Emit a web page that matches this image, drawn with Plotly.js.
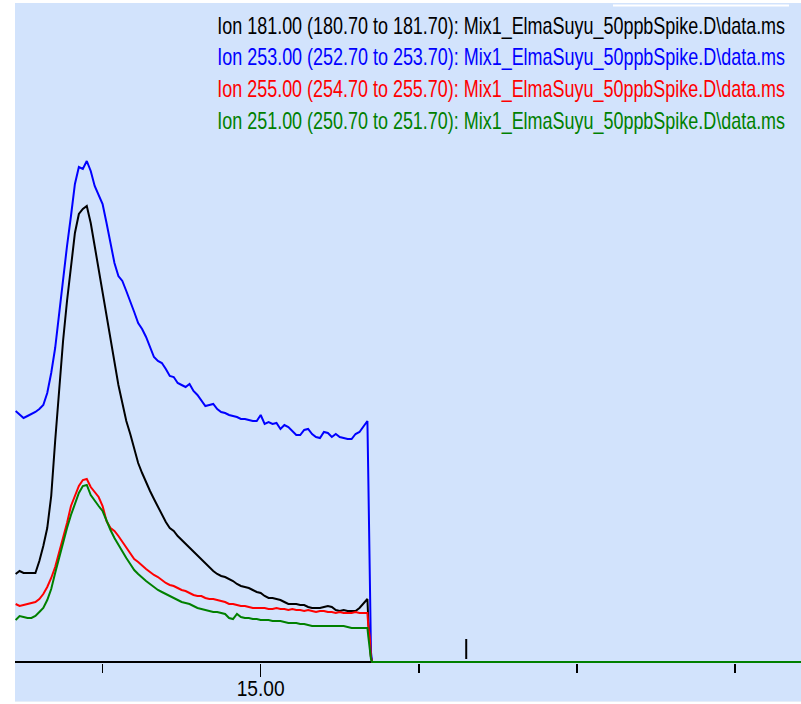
<!DOCTYPE html>
<html>
<head>
<meta charset="utf-8">
<script src="https://cdn.plot.ly/plotly-3.0.1.min.js"></script>
<style>
  html, body { margin: 0; padding: 0; background: #ffffff; width: 801px; height: 704px; overflow: hidden; }
  #chart { position: absolute; left: 15px; top: 3px; width: 786px; height: 698px; }
  #strip { position: absolute; left: 15px; top: 701px; width: 786px; height: 1px; background: #e6eef8; }
</style>
</head>
<body>
<div id="chart"></div>
<div id="strip"></div>
<script>
// Retention time (min)
const times = [
  14.690,14.695,14.700,14.705,14.710,14.715,14.720,14.725,14.730,14.735,
  14.740,14.745,14.750,14.755,14.760,14.765,14.770,14.775,14.780,14.785,
  14.790,14.795,14.800,14.805,14.810,14.815,14.820,14.825,14.830,14.835,
  14.840,14.845,14.850,14.855,14.860,14.865,14.870,14.875,14.880,14.885,
  14.890,14.895,14.900,14.905,14.910,14.915,14.920,14.925,14.930,14.935,
  14.940,14.945,14.950,14.955,14.960,14.965,14.970,14.975,14.980,14.985,
  14.990,14.995,15.000,15.005,15.010,15.015,15.020,15.025,15.030,15.035,
  15.040,15.045,15.050,15.055,15.060,15.065,15.070,15.075,15.080,15.085,
  15.090,15.095,15.100,15.105,15.110,15.115,15.120,15.125,15.130,15.135,
  15.1362,15.1380,15.1395,15.1410,15.7000
];

// Ion 181.00 (black)
const ion181 = [
  88,91,89,89,89,89,101,116,134,166,
  221,274,321,361,395,429,448,453,456,439,
  416,393,371,345,321,299,277,259,241,228,
  213,199,189,179,171,163,155,147,140,134,
  131,126,122,119,114,110,106,103,98,94,
  91,88,86,85,83,81,78,76,75,74,
  72,70,69,66,64,64,63,62,60,58,
  58,58,57,57,55,54,54,54,55,56,
  55,52,51,52,51,51,51,54,58,63,
  40,20,5,0,0
];

// Ion 253.00 (blue)
const ion253 = [
  251,247,244,246,248,250,253,257,269,289,
  314,349,386,416,446,478,495,493,501,491,
  476,466,458,439,420,399,386,381,371,361,
  350,339,333,325,314,305,301,299,293,286,
  285,279,277,275,278,271,267,261,256,257,
  258,253,250,249,247,246,245,243,243,242,
  241,241,247,238,240,238,239,233,237,235,
  231,227,227,232,233,228,225,224,230,229,
  225,228,225,224,223,223,228,230,236,241,
  181,60,10,0,0
];

// Ion 255.00 (red)
const ion255 = [
  58,56,57,58,59,60,63,68,75,84,
  95,109,124,139,156,167,176,182,183,175,
  170,165,156,141,134,131,126,120,114,108,
  103,100,96,93,90,87,85,82,79,77,
  76,74,72,71,69,67,66,66,64,63,
  63,62,61,60,58,58,57,56,56,55,
  54,54,54,54,53,53,54,53,53,52,
  53,52,52,51,52,51,50,51,51,50,
  50,49,50,49,49,49,50,49,49,49,
  35,25,5,0,0
];

// Ion 251.00 (green)
const ion251 = [
  42,46,45,44,44,46,50,54,62,73,
  89,105,121,134,147,158,169,176,177,167,
  161,156,151,141,132,124,117,111,104,98,
  92,88,84,81,78,75,72,70,68,66,
  64,62,60,59,58,56,54,53,52,51,
  50,50,49,48,44,43,48,45,44,44,
  43,43,42,42,42,41,41,41,40,39,
  39,39,38,38,37,36,36,36,36,36,
  36,36,36,36,35,34,34,34,34,34,
  25,12,3,0,0
];

// Small event mark on the baseline
const markTime = [15.26, 15.26];
const markLevel = [3, 23];

const legendLabels = [
  "Ion 181.00 (180.70 to 181.70): Mix1_ElmaSuyu_50ppbSpike.D\\data.ms",
  "Ion 253.00 (252.70 to 253.70): Mix1_ElmaSuyu_50ppbSpike.D\\data.ms",
  "Ion 255.00 (254.70 to 255.70): Mix1_ElmaSuyu_50ppbSpike.D\\data.ms",
  "Ion 251.00 (250.70 to 251.70): Mix1_ElmaSuyu_50ppbSpike.D\\data.ms"
];
const seriesColors = ["#000000", "#0000ff", "#ff0000", "#008000"];
const seriesData = [ion181, ion253, ion255, ion251];

const FONT = "'Liberation Sans', Arial, sans-serif";
const BG = "#d2e3fc";
const LEG_SIZE = 24;
const TICK_SIZE = 22;

const traces = seriesData.map((ys, i) => ({
  type: "scatter", mode: "lines",
  x: times, y: ys, name: legendLabels[i],
  line: { color: seriesColors[i], width: 2 },
  hoverinfo: "skip"
}));
traces.push({
  type: "scatter", mode: "lines", x: markTime, y: markLevel,
  line: { color: "#000000", width: 2 }, hoverinfo: "skip", showlegend: false
});

// cap-top pixel rows of legend lines (page coords)
const rowCapTop = [17, 48, 80, 112];
const annotations = legendLabels.map((t, i) => ({
  text: t, xref: "paper", yref: "paper",
  x: (787 - 15) / 786, y: 1 - (rowCapTop[i] + 8 - 3) / 660,
  xanchor: "right", yanchor: "middle", showarrow: false,
  font: { family: FONT, size: LEG_SIZE, color: seriesColors[i] }
}));

const layout = {
  width: 786, height: 698,
  margin: { l: 0, r: 0, t: 0, b: 38, pad: 0 },
  paper_bgcolor: BG, plot_bgcolor: BG,
  showlegend: false,
  xaxis: {
    range: [14.6892, 15.6835], showgrid: false, zeroline: false,
    showline: false,
    ticks: "outside", tick0: 15, dtick: 1, ticklen: 13, tickwidth: 1.5, tickcolor: "#000000",
    tickformat: ".2f",
    tickfont: { family: FONT, size: TICK_SIZE, color: "#000000" },
    minor: { tick0: 15, dtick: 0.2, ticks: "outside", ticklen: 9, tickwidth: 1.5, tickcolor: "#000000", showgrid: false }
  },
  yaxis: {
    range: [-1, 659], showgrid: false, showticklabels: false, ticks: "",
    zeroline: true, zerolinecolor: "#000000", zerolinewidth: 2
  },
  annotations: annotations,
  shapes: [{
    type: "line", xref: "paper", yref: "paper",
    x0: (613 - 15) / 786, x1: (789 - 15) / 786, y0: 1 - 2.5 / 660, y1: 1 - 2.5 / 660,
    line: { color: "#ffffff", width: 2 }
  }]
};

// Narrow a text element horizontally with a scale transform (the reference uses a tall, narrow screen font)
function narrow(el, width, align, size, capTop) {
  const bb = el.getBBox();
  const r = el.getBoundingClientRect();
  const sx = width / bb.width;
  const pivot = align === "right" ? bb.x + bb.width : bb.x + bb.width / 2;
  const dy = capTop - (r.top + 0.189 * size);
  const tr = el.getAttribute("transform") || "";
  el.setAttribute("transform",
    (tr + " translate(0," + dy + ") translate(" + pivot + ",0) scale(" + sx + ",1) translate(" + (-pivot) + ",0)").trim());
}

Plotly.newPlot("chart", traces, layout, { staticPlot: true, displayModeBar: false }).then(gd => {
  gd.querySelectorAll(".annotation-text").forEach((el, i) => {
    narrow(el, 568, "right", LEG_SIZE, rowCapTop[i]);
  });
  gd.querySelectorAll(".xtick text").forEach(el => {
    narrow(el, 48, "center", TICK_SIZE, 680);
  });
});
</script>
</body>
</html>
